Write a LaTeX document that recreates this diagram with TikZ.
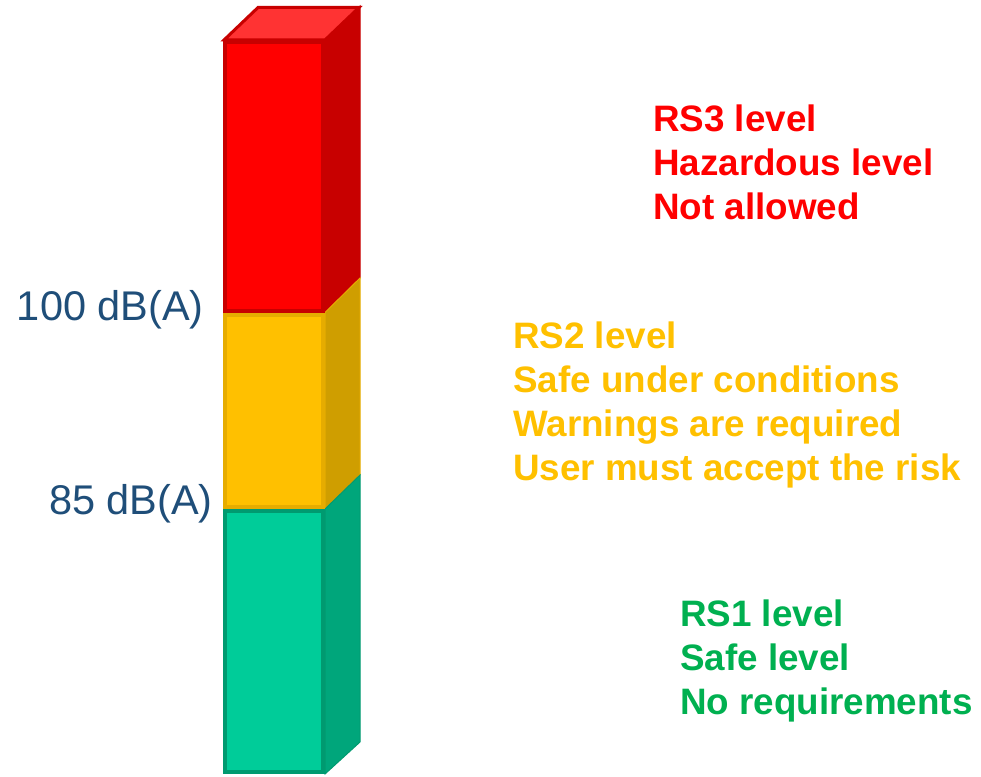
\documentclass[tikz,border=0pt]{standalone}
\usepackage{fontspec}
\setmainfont{Liberation Sans}
\usepackage{tikz}
\usetikzlibrary{positioning}
\definecolor{rsred}{HTML}{FF0000}
\definecolor{rsredtop}{HTML}{FF3333}
\definecolor{rsreddark}{HTML}{C80000}
\definecolor{rsyellow}{HTML}{FFC000}
\definecolor{rsyellowedge}{HTML}{E6AC00}
\definecolor{rsyellowside}{HTML}{CF9E00}
\definecolor{rsgreen}{HTML}{00CC99}
\definecolor{rsgreenedge}{HTML}{009A70}
\definecolor{rsgreenside}{HTML}{00A67B}
\definecolor{rsgreentext}{HTML}{00B050}
\definecolor{dbblue}{HTML}{1F4E79}
\tikzset{
    %Define style for the faces of the bar
    barfront/.style={
           line width=4pt,
           line join=miter},
    barside/.style={
           line width=1pt,
           line join=miter},
    %Define style for the level texts
    levtext/.style={
           font=\fontsize{36.8}{44}\selectfont\bfseries,
           align=left,
           anchor=north west,
           inner sep=0pt},
    % Define style for the dB labels
    dblabel/.style={
           font=\fontsize{41.5}{50}\selectfont,
           text=dbblue,
           anchor=base east,
           inner sep=0pt}
}
\begin{document}
\begin{tikzpicture}[x=1pt,y=-1pt]
\useasboundingbox (0,0) rectangle (981,776);
 %side faces
\filldraw[barside, fill=rsreddark, draw=rsreddark] (325,40) -- (360,6) -- (360,278) -- (325,312.5) -- cycle;
\filldraw[barside, fill=rsyellowside, draw=rsyellowedge] (325,312.5) -- (360,278) -- (360,475) -- (325,509) -- cycle;
\filldraw[barside, fill=rsgreenside, draw=rsgreenedge] (325,509) -- (360,475) -- (360,742) -- (325,774) -- cycle;
 %top face
\filldraw[line width=3pt, line join=miter, fill=rsredtop, draw=rsreddark] (224,40) -- (258,7.5) -- (359,7.5) -- (325,40) -- cycle;
 %front faces
\filldraw[barfront, fill=rsred, draw=rsreddark] (224.5,42) rectangle (323,310.5);
\filldraw[barfront, fill=rsyellow, draw=rsyellowedge] (224.5,314.5) rectangle (323,507);
\filldraw[barfront, fill=rsgreen, draw=rsgreenedge] (224.5,511) rectangle (323,772);

 %labels
\node[dblabel] (lbl100) at (204,320) {100 dB(A)};
\node[dblabel] (lbl85) at (213,514) {85 dB(A)};

\node[levtext, text=rsred] (rs3) at (653,104.5) {RS3 level\\Hazardous level\\Not allowed};
\node[levtext, text=rsyellow] (rs2) at (513,321.5) {RS2 level\\Safe under conditions\\Warnings are required\\User must accept the risk};
\node[levtext, text=rsgreentext] (rs1) at (680,599.5) {RS1 level\\Safe level\\No requirements};
\end{tikzpicture}
\end{document}
